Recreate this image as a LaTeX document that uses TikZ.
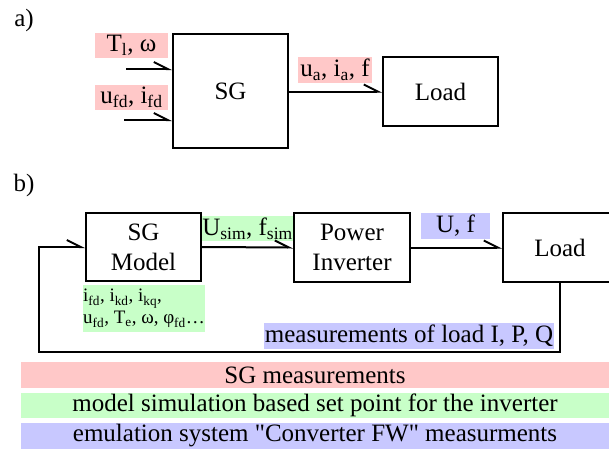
\documentclass[tikz,border=0pt]{standalone}
\usepackage{fontspec}
\setmainfont{Liberation Serif}[Ligatures=TeXOff]
\usetikzlibrary{arrows.meta}
\definecolor{pinkc}{RGB}{255,200,200}
\definecolor{greenc}{RGB}{200,255,200}
\definecolor{bluec}{RGB}{200,200,255}
\newcommand{\fsz}[1]{\fontsize{#1}{#1}\selectfont}
\newcommand{\sbs}[1]{\textsubscript{#1}}
\newcommand{\sq}{\XeTeXglyph\XeTeXcharglyph"22\relax}
\tikzset{
  blk/.style={draw, line width=2pt, inner sep=0pt, align=center, font=\fsz{25}},
  blk2/.style={draw, line width=2pt, inner sep=0pt, align=center, font=\fontsize{25}{30}\selectfont},
  lbl/.style={inner sep=0pt, align=center, font=\fsz{25}},
  arr/.style={line width=2pt, -{Straight Barb[left,length=14pt,width=14pt]}},
}
\begin{document}
\begin{tikzpicture}[x=1pt,y=-1pt]
\useasboundingbox (0,0) rectangle (609,448);
\clip (0,0) rectangle (609,448);
% part a
\node[font=\fsz{25}, inner sep=0pt] (la) at (24,20) {a)};
\node[blk, minimum width=115pt, minimum height=114pt] (sga) at (230.5,91) {SG};
\node[blk, minimum width=115pt, minimum height=69pt] (loada) at (440.5,91.5) {Load};
\node[lbl, fill=pinkc, minimum width=73pt, minimum height=25pt] (tl) at (131.5,45.5) {T\sbs{l}, ω};
\node[lbl, fill=pinkc, minimum width=73pt, minimum height=25pt] (ufd) at (131.5,97.5) {u\sbs{fd}, i\sbs{fd}};
\node[lbl, fill=pinkc, minimum width=74pt, minimum height=26pt] (ua) at (335,70) {u\sbs{a}, i\sbs{a}, f};
\coordinate (in1) at (126,69);
\coordinate (in2) at (124,120);
\draw[arr] (in1) -- (in1 -| sga.west);
\draw[arr] (in2) -- (in2 -| sga.west);
\draw[arr] (sga.east |- loada.west) -- (loada.west);
% part b
\node[font=\fsz{25}, inner sep=0pt] (lb) at (24,185) {b)};
\node[blk2, minimum width=115pt, minimum height=68pt] (sgm) at (143.5,247) {SG\\Model};
\node[blk2, minimum width=116pt, minimum height=69pt] (pi) at (352,247.5) {Power\\Inverter};
\node[blk, minimum width=114pt, minimum height=69pt] (loadb) at (560,247.5) {Load};
\node[lbl, fill=greenc, minimum width=89pt, minimum height=25pt] (usim) at (247.5,228.5) {U\sbs{sim}, f\sbs{sim}};
\node[lbl, fill=bluec, minimum width=69pt, minimum height=26pt] (uf) at (455.5,226) {U, f};
\node[inner sep=0pt, fill=greenc, minimum width=118pt, minimum height=47pt, align=left, font=\fontsize{19}{22}\selectfont] (state) at (144,308.5) {i\sbs{fd}, i\sbs{kd}, i\sbs{kq},\\u\sbs{fd}, T\sbs{e}, ω, φ\sbs{fd}…};
\node[lbl, fill=bluec, minimum width=290pt, minimum height=26pt] (meas) at (409,336) {measurements of load I, P, Q};
\draw[arr] (sgm.east) -- (pi.west);
\draw[arr] (pi.east) -- (loadb.west);
\coordinate (fb) at (39,352);
\draw[arr] (loadb.south) |- (fb) |- (sgm.west);
% legend
\node[lbl, fill=pinkc, minimum width=588pt, minimum height=26pt] (lg1) at (315,375) {SG measurements};
\node[lbl, fill=greenc, minimum width=588pt, minimum height=25pt] (lg2) at (315,405.5) {model simulation based set point for the inverter};
\node[lbl, fill=bluec, minimum width=588pt, minimum height=26pt] (lg3) at (315,436) {emulation system \sq Converter FW\sq{} measurments};
\end{tikzpicture}
\end{document}
